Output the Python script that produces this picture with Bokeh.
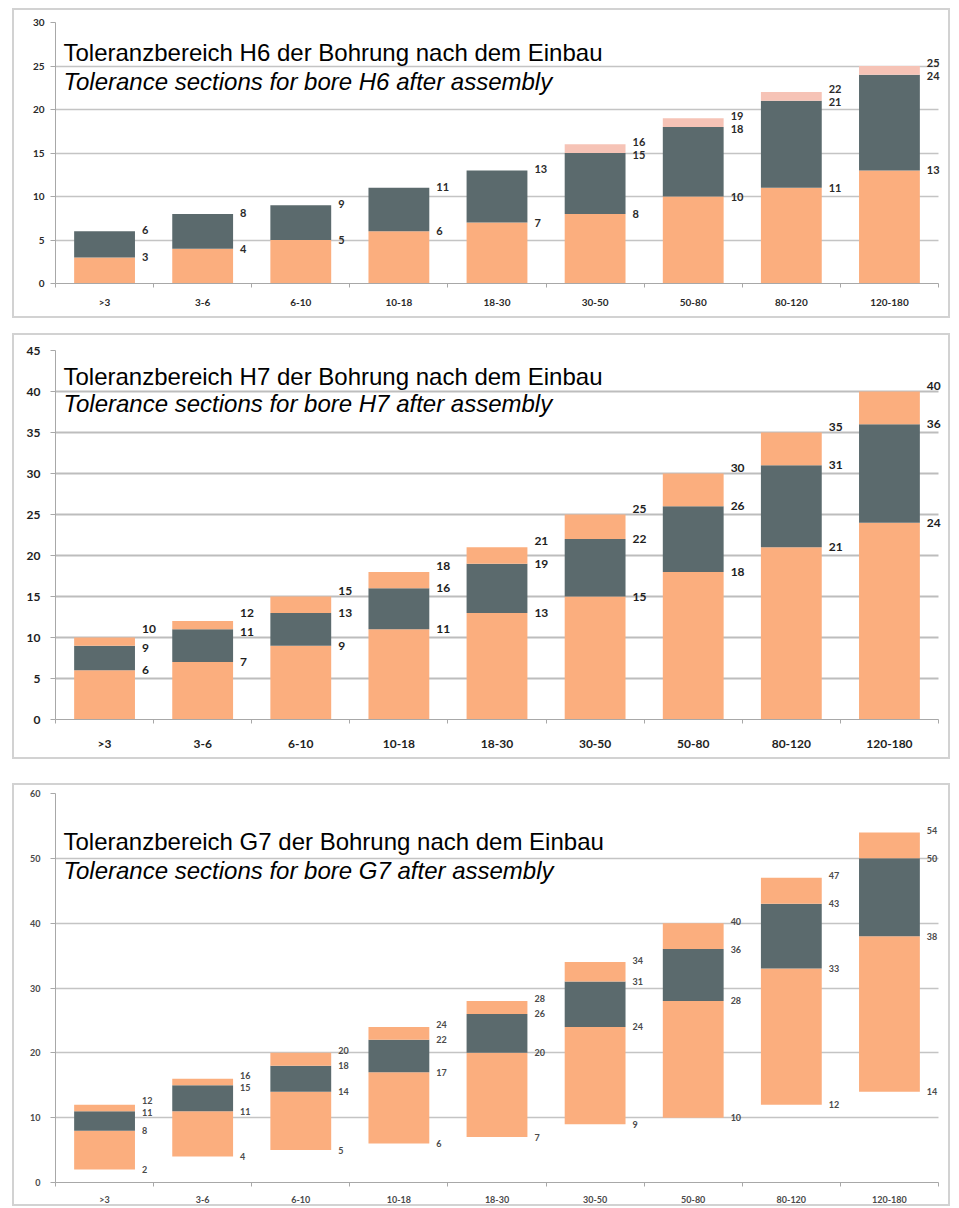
from bokeh.plotting import figure
from bokeh.models import Range1d, FixedTicker, Label, LabelSet, ColumnDataSource, Spacer, BoxAnnotation
from bokeh.layouts import column
from bokeh.core.properties import value
from bokeh.embed import file_html
from bokeh.resources import INLINE

categories = [">3", "3-6", "6-10", "10-18", "18-30", "30-50", "50-80", "80-120", "120-180"]

# H6 panel
h6_orange = [3, 4, 5, 6, 7, 8, 10, 11, 13]
h6_dark = [6, 8, 9, 11, 13, 15, 18, 21, 24]
h6_top = [6, 8, 9, 11, 13, 16, 19, 22, 25]

# H7 panel
h7_orange = [6, 7, 9, 11, 13, 15, 18, 21, 24]
h7_dark = [9, 11, 13, 16, 19, 22, 26, 31, 36]
h7_top = [10, 12, 15, 18, 21, 25, 30, 35, 40]

# G7 panel
g7_low = [2, 4, 5, 6, 7, 9, 10, 12, 14]
g7_orange = [8, 11, 14, 17, 20, 24, 28, 33, 38]
g7_dark = [11, 15, 18, 22, 26, 31, 36, 43, 50]
g7_top = [12, 16, 20, 24, 28, 34, 40, 47, 54]

titles_de = ["Toleranzbereich H6 der Bohrung nach dem Einbau",
             "Toleranzbereich H7 der Bohrung nach dem Einbau",
             "Toleranzbereich G7 der Bohrung nach dem Einbau"]
titles_en = ["Tolerance sections for bore H6 after assembly",
             "Tolerance sections for bore H7 after assembly",
             "Tolerance sections for bore G7 after assembly"]

ORANGE = "#FBAE7E"
DARK = "#5B6A6D"
PINK = "#F6C3B6"
BAR_W = 0.62
CAT_PX = 883 / len(categories)   # pixels per category
EXTRA_PX = 14                    # room right of the last category for its labels
BORDER_FIX = 4                   # the CSS border adds this much to the drawn frame


def make_panel(frame_h, mb_top, mb_bottom, ymax, ystep, segments, label_sets,
               t1, t2, ty1, ty2, fs_tick, fs_val, fs_x, xstand, ystand,
               grid_w, grid_col, txt_col, top_raise, title_box=False):
    n = len(categories)
    ext = EXTRA_PX / CAT_PX
    p = figure(frame_width=883 + EXTRA_PX - BORDER_FIX, frame_height=frame_h - BORDER_FIX,
               output_backend="svg", toolbar_location=None,
               x_range=Range1d(-0.5, n - 0.5 + ext), y_range=Range1d(0, ymax),
               min_border_left=41, min_border_right=0, min_border_top=mb_top,
               min_border_bottom=mb_bottom)
    p.styles = {"border": "2px solid #d2d2d2", "box-sizing": "content-box"}
    p.outline_line_color = None
    p.background_fill_color = "white"
    p.border_fill_color = "white"
    xs = list(range(n))
    for bottoms, tops, col in segments:
        p.vbar(x=xs, bottom=bottoms, top=tops, width=BAR_W, fill_color=col, line_color=None)

    # hide grid lines in the label margin right of the last category
    p.add_layout(BoxAnnotation(left=n - 0.5, fill_color="white", fill_alpha=1.0,
                               line_color=None, level="glyph"))

    ppu = frame_h / ymax
    lx, ly, lt, lo = [], [], [], []
    for i in xs:
        vals = sorted(set(s[i] for s in label_sets), reverse=True)
        offs = [0.0] * len(vals)
        offs[0] += top_raise
        min_gap = fs_val + 1
        for k in range(len(vals) - 1):
            gap = (vals[k] - vals[k + 1]) * ppu
            if gap < min_gap:
                extra = (min_gap - gap) / 2
                offs[k] += extra
                offs[k + 1] -= extra
        for v, o in zip(vals, offs):
            lx.append(i + BAR_W / 2)
            ly.append(v)
            lt.append(str(v))
            lo.append(o)
    src = ColumnDataSource(dict(x=lx, y=ly, t=lt, o=lo))
    p.add_layout(LabelSet(x="x", y="y", text="t", y_offset="o", x_offset=7, source=src,
                          text_font=value("Lato"), text_font_style="bold",
                          text_font_size=f"{fs_val}px",
                          text_color=txt_col, text_align="left", text_baseline="middle"))

    if title_box:
        # white text-box behind first title line (hides the gridline there)
        w_cats = (480 - 55) / CAT_PX
        p.add_layout(BoxAnnotation(left=-0.5, right=-0.5 + w_cats, bottom=ty1 - 1.4,
                                   top=ty1 + 0.6, fill_color="white", fill_alpha=1.0,
                                   line_color=None, level="glyph"))

    p.add_layout(Label(x=-0.5, y=ty1, x_offset=8, text=t1, text_font="Liberation Sans",
                       text_font_size="24px", text_color="black", text_baseline="alphabetic"))
    p.add_layout(Label(x=-0.5, y=ty2, x_offset=8, text=t2, text_font="Liberation Sans",
                       text_font_size="24px", text_font_style="italic", text_color="black",
                       text_baseline="alphabetic"))

    # axes
    p.yaxis.ticker = FixedTicker(ticks=list(range(0, ymax + 1, ystep)))
    p.yaxis.major_label_text_font = "Lato"
    p.yaxis.major_label_text_font_style = "bold"
    p.yaxis.major_label_text_font_size = f"{fs_tick}px"
    p.yaxis.major_label_text_color = txt_col
    p.yaxis.major_label_standoff = ystand
    p.yaxis.major_tick_out = 5
    p.yaxis.major_tick_in = 0
    p.yaxis.minor_tick_line_color = None
    p.yaxis.axis_line_color = "#a8a8a8"
    p.yaxis.major_tick_line_color = "#a8a8a8"

    p.xaxis.ticker = FixedTicker(ticks=xs, minor_ticks=[i - 0.5 for i in range(n + 1)])
    p.xaxis.major_label_overrides = {i: c for i, c in enumerate(categories)}
    p.xaxis.major_label_text_font = "Lato"
    p.xaxis.major_label_text_font_style = "bold"
    p.xaxis.major_label_text_font_size = f"{fs_x}px"
    p.xaxis.major_label_text_color = txt_col
    p.xaxis.major_label_standoff = xstand
    p.xaxis.major_tick_line_color = None
    p.xaxis.major_tick_out = 0
    p.xaxis.major_tick_in = 0
    p.xaxis.minor_tick_out = 4
    p.xaxis.minor_tick_in = 0
    p.xaxis.minor_tick_line_color = "#a8a8a8"
    p.xaxis.axis_line_color = "#a8a8a8"
    p.xaxis.bounds = (-0.5, n - 0.5)

    p.xgrid.grid_line_color = None
    p.ygrid.grid_line_color = grid_col
    p.ygrid.grid_line_width = grid_w
    return p


p1 = make_panel(261, 12, 37, 30, 5,
                [([0] * 9, h6_orange, ORANGE), (h6_orange, h6_dark, DARK), (h6_dark, h6_top, PINK)],
                [h6_orange, h6_dark, h6_top],
                titles_de[0], titles_en[0], 26.6, 23.2,
                10, 11, 10, 8, 6, 1.5, "#c4c4c4", "#2a2a2a", 1, title_box=True)

p2 = make_panel(369, 15, 42, 45, 5,
                [([0] * 9, h7_orange, ORANGE), (h7_orange, h7_dark, DARK), (h7_dark, h7_top, ORANGE)],
                [h7_orange, h7_dark, h7_top],
                titles_de[1], titles_en[1], 41.8, 38.5,
                12, 12, 12, 12, 10, 2, "#bdbdbd", "#1e1e1e", 6)

p3 = make_panel(389, 8, 26, 60, 10,
                [(g7_low, g7_orange, ORANGE), (g7_orange, g7_dark, DARK), (g7_dark, g7_top, ORANGE)],
                [g7_low, g7_orange, g7_dark, g7_top],
                titles_de[2], titles_en[2], 52.6, 48.1,
                9, 9, 9, 7, 10, 1.5, "#c4c4c4", "#4a4a4a", 2)

layout = column(p1, Spacer(height=15), p2, Spacer(height=24), p3, spacing=0,
                margin=(8, 0, 0, 12))

with open("out.html", "w") as f:
    f.write(file_html(layout, INLINE))
